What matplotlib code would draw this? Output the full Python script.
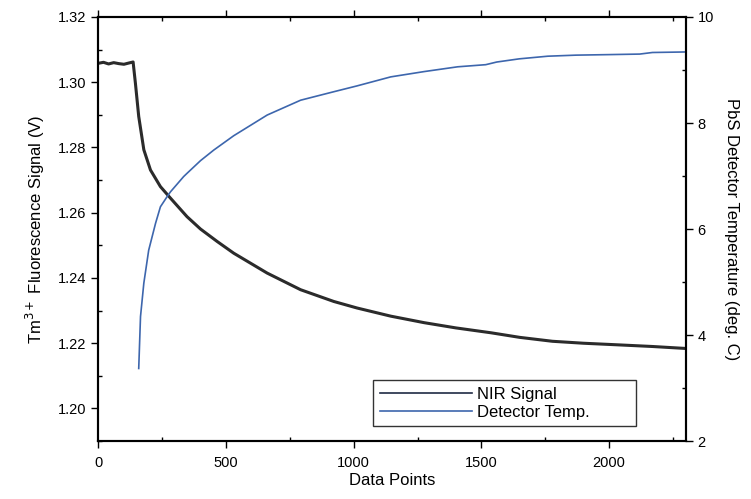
import matplotlib.pyplot as plt
from matplotlib.ticker import MultipleLocator

plt.rcParams['font.family'] = ['Liberation Sans', 'DejaVu Sans']

# NIR fluorescence signal (V) vs data point index
nir_x = [0, 20, 40, 60, 80, 100, 120, 136, 145, 158, 178, 204, 243, 282,
         347, 400, 465, 530, 661, 792, 922, 1013, 1145, 1276, 1400, 1538,
         1650, 1778, 1900, 2037, 2170, 2300]
nir_y = [1.3058, 1.3061, 1.3056, 1.3060, 1.3057, 1.3055, 1.3059, 1.3062,
         1.2997, 1.2895, 1.2793, 1.2731, 1.2680, 1.2645, 1.2588, 1.2550,
         1.2512, 1.2476, 1.2415, 1.2364, 1.2328, 1.2308, 1.2283, 1.2263,
         1.2247, 1.2232, 1.2218, 1.2206, 1.2200, 1.2195, 1.2190, 1.2184]

# PbS detector temperature (deg. C)
temp_x = [158, 165, 178, 197, 224, 243, 269, 282, 334, 347, 400, 452,
          530, 661, 792, 922, 1013, 1145, 1276, 1407, 1517, 1560, 1648,
          1760, 1871, 2000, 2120, 2170, 2300]
temp_y = [3.37, 4.35, 4.98, 5.60, 6.11, 6.42, 6.61, 6.70, 6.99, 7.05, 7.29,
          7.49, 7.76, 8.15, 8.43, 8.59, 8.70, 8.87, 8.97, 9.06, 9.10,
          9.15, 9.21, 9.26, 9.28, 9.29, 9.30, 9.33, 9.34]

fig = plt.figure(figsize=(7.51, 4.99), dpi=100)
ax = fig.add_axes([0.131, 0.116, 0.782, 0.850])
ax2 = ax.twinx()

l1, = ax.plot(nir_x, nir_y, color='#2b2b2b', lw=2.2, label='NIR Signal')
l2, = ax2.plot(temp_x, temp_y, color='#3d66ad', lw=1.2, label='Detector Temp.')

ax.set_xlim(0, 2300)
ax.set_ylim(1.19, 1.32)
ax2.set_ylim(2, 10)

ax.xaxis.set_major_locator(MultipleLocator(500))
ax.xaxis.set_minor_locator(MultipleLocator(250))
ax.yaxis.set_major_locator(MultipleLocator(0.02))
ax.yaxis.set_minor_locator(MultipleLocator(0.01))
ax2.yaxis.set_major_locator(MultipleLocator(2))
ax2.yaxis.set_minor_locator(MultipleLocator(1))
ax.yaxis.set_major_formatter(plt.FormatStrFormatter('%.2f'))

for a in (ax, ax2):
    a.tick_params(which='major', direction='out', length=5, width=1, labelsize=10.5)
    a.tick_params(which='minor', direction='in', length=3, width=1)
    for s in a.spines.values():
        s.set_linewidth(1.5)
ax.tick_params(axis='x', which='both', top=True)
ax.tick_params(axis='x', which='major', pad=6)

ax.set_xlabel('Data Points', fontsize=12, labelpad=2)
ax.set_ylabel('Tm$^{3+}$ Fluorescence Signal (V)', fontsize=12, labelpad=8)
ax2.set_ylabel('PbS Detector Temperature (deg. C)', fontsize=12, rotation=270, labelpad=18)

leg = ax.legend([l1, l2], ['NIR Signal', 'Detector Temp.'], loc='lower left',
                bbox_to_anchor=(0.468, 0.035, 0.447, 0.154), mode='expand',
                fontsize=12, handlelength=5.5, frameon=True, fancybox=False,
                borderaxespad=0, labelspacing=0.15, handletextpad=0.3)
leg.get_frame().set_edgecolor('black')
leg.get_frame().set_linewidth(1.0)
leg.legend_handles[0].set_linewidth(1.2)
leg.legend_handles[0].set_color('#1f2a44')
leg.set_zorder(5)

fig.savefig('out.png', dpi=100)
